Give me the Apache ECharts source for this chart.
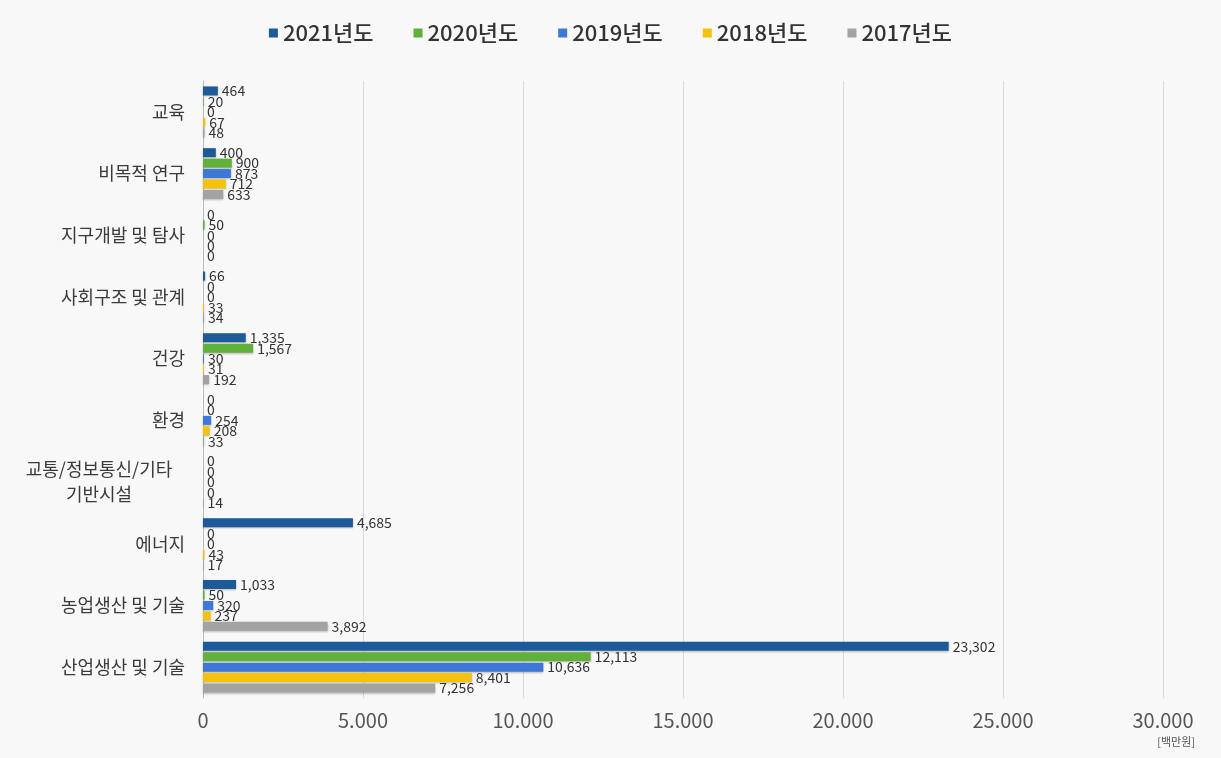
<!DOCTYPE html>
<html>
<head>
<meta charset="utf-8">
<script src="https://cdn.jsdelivr.net/npm/echarts@6/dist/echarts.min.js"></script>
<style>
  html, body { margin: 0; padding: 0; background: #f8f8f8; }
  #chart { width: 1221px; height: 758px; }
</style>
</head>
<body>
<div id="chart"></div>
<script>
// categories top -> bottom as in the picture
const categories = ['교육', '비목적 연구', '지구개발 및 탐사', '사회구조 및 관계', '건강', '환경',
  '교통/정보통신/기타\n기반시설', '에너지', '농업생산 및 기술', '산업생산 및 기술']

const years = ['2021년도', '2020년도', '2019년도', '2018년도', '2017년도']

// values per year, same order as categories [백만원]
const y2021 = [464, 400, 0, 66, 1335, 0, 0, 4685, 1033, 23302]
const y2020 = [20, 900, 50, 0, 1567, 0, 0, 0, 50, 12113]
const y2019 = [0, 873, 0, 0, 30, 254, 0, 0, 320, 10636]
const y2018 = [67, 712, 0, 33, 31, 208, 0, 43, 237, 8401]
const y2017 = [48, 633, 0, 34, 192, 33, 14, 17, 3892, 7256]

const colors = ['#1d5a99', '#62b03c', '#3d78d8', '#f4c20d', '#a3a3a3']
const seriesData = [y2021, y2020, y2019, y2018, y2017]

const fmt = (v) => String(v).replace(/\B(?=(\d{3})+(?!\d))/g, ',')
const axisFmt = (v) => String(v).replace(/\B(?=(\d{3})+(?!\d))/g, '.')

const chart = echarts.init(document.getElementById('chart'))

chart.setOption({
  backgroundColor: '#f8f8f8',
  textStyle: { fontFamily: '"Noto Sans CJK KR", sans-serif' },
  legend: {
    top: 17,
    left: 'center',
    itemWidth: 9,
    itemHeight: 9,
    itemGap: 40,
    icon: 'rect',
    textStyle: { fontSize: 22, color: '#333', fontWeight: 500, fontFamily: '"Noto Sans CJK KR", sans-serif' },
    data: years,
  },
  grid: { left: 203, right: 58, top: 81, bottom: 60 },
  xAxis: {
    type: 'value',
    min: 0,
    max: 30000,
    interval: 5000,
    axisLine: { show: false },
    axisTick: { show: false },
    splitLine: { lineStyle: { color: '#d9d9d9' } },
    axisLabel: {
      formatter: axisFmt,
      fontSize: 20,
      color: '#555',
      margin: 12,
      fontFamily: '"Noto Sans CJK KR", sans-serif',
    },
  },
  yAxis: {
    type: 'category',
    inverse: true,
    data: categories,
    axisLine: { lineStyle: { color: '#bbbbbb' } },
    axisTick: { show: false },
    axisLabel: {
      fontSize: 18,
      color: '#3a3a3a',
      margin: 18,
      lineHeight: 25,
      formatter: (v) => v.includes('\n')
        ? v.split('\n').map((s) => '{c|' + s + '}').join('\n')
        : v,
      rich: { c: { width: 172, align: 'center', fontSize: 18, lineHeight: 25, color: '#3a3a3a' } },
    },
  },
  graphic: [
    {
      type: 'text',
      right: 26,
      top: 736,
      style: { text: '[백만원]', fontSize: 11, fill: '#555', fontFamily: '"Noto Sans CJK KR", sans-serif' },
    },
  ],
  series: years.map((name, i) => ({
    name,
    type: 'bar',
    data: seriesData[i],
    barWidth: 9,
    barGap: '16%',
    itemStyle: {
      color: colors[i],
      shadowColor: 'rgba(0,0,0,0.25)',
      shadowBlur: 2,
      shadowOffsetY: 1,
    },
    label: {
      show: true,
      position: 'right',
      distance: 4,
      formatter: (p) => fmt(p.value),
      fontSize: 14,
      color: '#333',
    },
    color: colors[i],
  })),
})

window.addEventListener('resize', () => chart.resize())
</script>
</body>
</html>
